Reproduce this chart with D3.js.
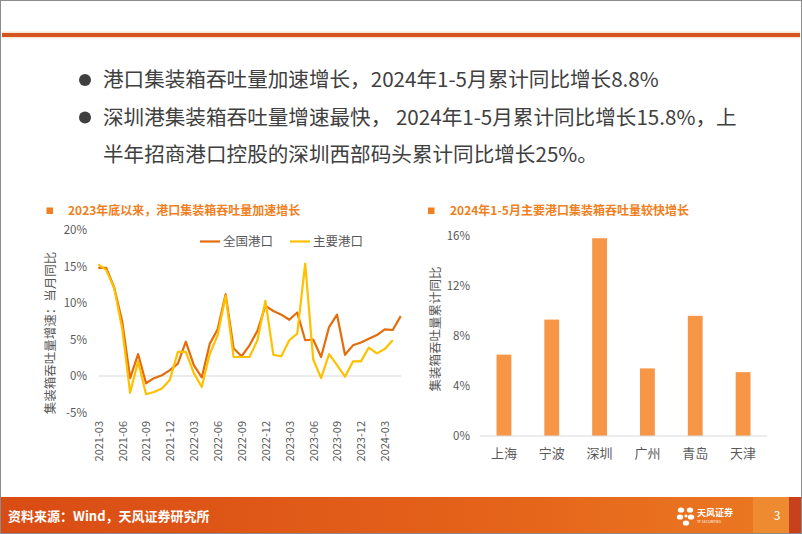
<!DOCTYPE html>
<html><head><meta charset="utf-8">
<script src="https://cdn.jsdelivr.net/npm/d3@7"></script>
<style>
body{margin:0;background:#fff}
svg{display:block}
text{font-family:"Noto Sans CJK SC","Noto Sans",sans-serif}
</style>
</head><body>
<svg id="c" width="802" height="534"></svg>
<script>
// ---------- DATA ----------
const months = ["2021-03","2021-04","2021-05","2021-06","2021-07","2021-08","2021-09","2021-10","2021-11","2021-12",
  "2022-01","2022-02","2022-03","2022-04","2022-05","2022-06","2022-07","2022-08","2022-09","2022-10","2022-11","2022-12",
  "2023-01","2023-02","2023-03","2023-04","2023-05","2023-06","2023-07","2023-08","2023-09","2023-10","2023-11","2023-12",
  "2024-01","2024-02","2024-03","2024-04","2024-05"];
const nationalPort = [14.8,14.8,12.1,7.5,-0.3,3.0,-1.0,-0.3,0.1,0.8,1.7,4.7,1.5,-0.2,4.4,6.4,11.2,3.8,2.7,4.2,6.2,9.6,8.9,8.4,7.7,8.7,4.9,5.0,2.6,6.7,8.4,2.9,4.2,4.6,5.1,5.6,6.4,6.3,8.2];
const majorPorts   = [15.3,14.5,12.0,6.5,-2.3,2.0,-2.5,-2.2,-1.7,-0.5,3.3,3.3,0.4,-1.5,3.0,5.6,11.0,2.6,2.6,2.6,4.9,10.3,2.9,2.7,4.9,5.8,15.4,2.3,-0.3,3.0,1.5,-0.1,2.0,2.0,3.9,3.1,3.7,4.9];
const xTickLabels = ["2021-03","2021-06","2021-09","2021-12","2022-03","2022-06","2022-09","2022-12","2023-03","2023-06","2023-09","2023-12","2024-03"];
const yTicksLeft = [-5,0,5,10,15,20];
const seriesNames = ["全国港口","主要港口"];

const ports = ["上海","宁波","深圳","广州","青岛","天津"];
const portGrowth = [6.5,9.3,15.8,5.4,9.6,5.1];
const yTicksRight = [0,4,8,12,16];

const bulletLines = [
  "港口集装箱吞吐量加速增长，2024年1-5月累计同比增长8.8%",
  "深圳港集装箱吞吐量增速最快， 2024年1-5月累计同比增长15.8%，上",
  "半年招商港口控股的深圳西部码头累计同比增长25%。"
];
const leftTitle = "2023年底以来，港口集装箱吞吐量加速增长";
const rightTitle = "2024年1-5月主要港口集装箱吞吐量较快增长";
const leftYLabel = "集装箱吞吐量增速：当月同比";
const rightYLabel = "集装箱吞吐量累计同比";
const footerText = "资料来源：Wind，天风证券研究所";

// ---------- STYLE ----------
const C = {text:"#404040", axis:"#595959", grid:"#D9D9D9", title:"#F07F22",
  nat:"#E46C0A", maj:"#FFC000", bar:"#F79646"};

const svg = d3.select("#c");
svg.append("rect").attr("width",802).attr("height",534).attr("fill","#fff");

// top bar
svg.append("rect").attr("x",2).attr("y",31.5).attr("width",798).attr("height",7).attr("fill","#F6D3C0").attr("opacity",0.6);
svg.append("rect").attr("x",2).attr("y",33).attr("width",798).attr("height",4).attr("fill","#D4531E");

// bullets
const bl = svg.append("g");
[0,1].forEach(i=>{
  bl.append("circle").attr("cx",85).attr("cy",80+i*37.5).attr("r",6).attr("fill","#3F3F3F");
});
bulletLines.forEach((t,i)=>{
  bl.append("text").attr("x",103).attr("y",80+i*37.5).attr("dy","0.36em")
    .attr("font-size",20.6).attr("fill",C.text).text(t);
});

// ---------- LEFT CHART ----------
const L = svg.append("g");
L.append("rect").attr("x",46.5).attr("y",207.5).attr("width",6.5).attr("height",6.5).attr("fill",C.title);
L.append("text").attr("x",68).attr("y",211).attr("dy","0.36em").attr("font-size",12).attr("font-weight","bold")
  .attr("fill",C.title).text(leftTitle);

const x1 = d3.scalePoint().domain(months).range([98.3,400.7]);
const y1 = d3.scaleLinear().domain([-5,20]).range([412.5,230]);

L.append("line").attr("x1",98).attr("x2",401).attr("y1",y1(0)).attr("y2",y1(0))
  .attr("stroke",C.grid).attr("stroke-width",1.2);

const yAxL = d3.axisLeft(y1).tickValues(yTicksLeft).tickSize(0).tickPadding(0).tickFormat(d=>d+"%");
const gyl = L.append("g").attr("transform","translate(87,0)").call(yAxL);
gyl.select(".domain").remove();
gyl.selectAll("text").attr("font-size",11.5).attr("fill",C.axis).style("font-family",'"Noto Sans CJK SC",sans-serif');

const xAxL = d3.axisBottom(x1).tickValues(xTickLabels).tickSize(0).tickPadding(0);
const gxl = L.append("g").attr("transform","translate(0,421)").call(xAxL);
gxl.select(".domain").remove();
gxl.selectAll("text").attr("font-size",11).attr("fill",C.axis).style("font-family",'"Noto Sans CJK SC",sans-serif')
  .attr("text-anchor","end").attr("transform","rotate(-90)").attr("x",0).attr("y",0).attr("dy","0.35em");

L.append("text").attr("transform","translate(51,333) rotate(-90)").attr("text-anchor","middle").attr("dy","0.35em")
  .attr("font-size",12.5).attr("fill",C.axis).text(leftYLabel);

const line1 = d3.line().x((d,i)=>x1(months[i])).y(d=>y1(d));
L.append("path").attr("d",line1(nationalPort)).attr("fill","none").attr("stroke",C.nat).attr("stroke-width",2.2).attr("stroke-linejoin","round");
L.append("path").attr("d",line1(majorPorts)).attr("fill","none").attr("stroke",C.maj).attr("stroke-width",2.2).attr("stroke-linejoin","round");

// legend
[[200,C.nat],[290,C.maj]].forEach(([lx,col],i)=>{
  L.append("line").attr("x1",lx).attr("x2",lx+20).attr("y1",241.5).attr("y2",241.5).attr("stroke",col).attr("stroke-width",2.2);
  L.append("text").attr("x",lx+23).attr("y",241.5).attr("dy","0.36em").attr("font-size",12.5).attr("fill",C.axis).text(seriesNames[i]);
});

// ---------- RIGHT CHART ----------
const R = svg.append("g");
R.append("rect").attr("x",428).attr("y",207.5).attr("width",6.5).attr("height",6.5).attr("fill",C.title);
R.append("text").attr("x",450).attr("y",211).attr("dy","0.36em").attr("font-size",12).attr("font-weight","bold")
  .attr("fill",C.title).text(rightTitle);

const x2 = d3.scaleBand().domain(ports).range([480,767]).paddingInner(0.69).paddingOuter(0.345);
const y2 = d3.scaleLinear().domain([0,16]).range([436,235.7]);

const yAxR = d3.axisLeft(y2).tickValues(yTicksRight).tickSize(0).tickPadding(0).tickFormat(d=>d+"%");
const gyr = R.append("g").attr("transform","translate(470,0)").call(yAxR);
gyr.select(".domain").remove();
gyr.selectAll("text").attr("font-size",11.5).attr("fill",C.axis).style("font-family",'"Noto Sans CJK SC",sans-serif');

R.selectAll("rect.bar").data(portGrowth).join("rect").attr("class","bar")
  .attr("x",(d,i)=>x2(ports[i])).attr("width",x2.bandwidth())
  .attr("y",d=>y2(d)).attr("height",d=>y2(0)-y2(d)).attr("fill",C.bar);

R.append("line").attr("x1",480).attr("x2",767).attr("y1",y2(0)).attr("y2",y2(0)).attr("stroke",C.grid).attr("stroke-width",1.2);

const xAxR = d3.axisBottom(x2).tickSize(0).tickPadding(0);
const gxr = R.append("g").attr("transform","translate(0,453)").call(xAxR);
gxr.select(".domain").remove();
gxr.selectAll("text").attr("font-size",13).attr("fill",C.axis).attr("dy","0.36em").attr("y",0).style("font-family",'"Noto Sans CJK SC",sans-serif');

R.append("text").attr("transform","translate(436,329) rotate(-90)").attr("text-anchor","middle").attr("dy","0.35em")
  .attr("font-size",12.5).attr("fill",C.axis).text(rightYLabel);

// ---------- FOOTER ----------
const defs = svg.append("defs");
const gr = defs.append("linearGradient").attr("id","fg").attr("x1","0").attr("x2","1");
gr.append("stop").attr("offset","0").attr("stop-color","#D94C14");
gr.append("stop").attr("offset","0.6").attr("stop-color","#E4621A");
gr.append("stop").attr("offset","1").attr("stop-color","#EC7A22");
svg.append("rect").attr("x",1).attr("y",497).attr("width",800).attr("height",36).attr("fill","url(#fg)");
svg.append("rect").attr("x",753).attr("y",497).attr("width",36).attr("height",36).attr("fill","#EE8A30");
svg.append("rect").attr("x",789).attr("y",497).attr("width",12).attr("height",36).attr("fill","#C9401C");
svg.append("text").attr("x",8).attr("y",516).attr("dy","0.36em").attr("font-size",13).attr("font-weight","bold")
  .attr("fill","#fff").text(footerText);
svg.append("text").attr("x",777).attr("y",516).attr("dy","0.36em").attr("font-size",12).attr("text-anchor","middle")
  .attr("fill","#fff").text("3");
// logo
const lg = svg.append("g").attr("transform","translate(686,516)").attr("fill","#fff");
[[-5,-6],[4,-6],[-6,1],[5,1],[0,7]].forEach(([dx,dy])=>{
  lg.append("ellipse").attr("cx",dx).attr("cy",dy).attr("rx",3.2).attr("ry",2.6);
});
lg.append("circle").attr("cx",0).attr("cy",0).attr("r",1.6);
svg.append("text").attr("x",697).attr("y",513).attr("dy","0.36em").attr("font-size",9).attr("font-weight","bold").attr("fill","#fff").text("天风证券");
svg.append("text").attr("x",697).attr("y",522).attr("dy","0.36em").attr("font-size",3.5).attr("fill","#fff").text("TF SECURITIES");

// frame
svg.append("rect").attr("x",0.5).attr("y",0.5).attr("width",801).attr("height",533).attr("fill","none").attr("stroke","#8C8C8C");
</script>
</body></html>
